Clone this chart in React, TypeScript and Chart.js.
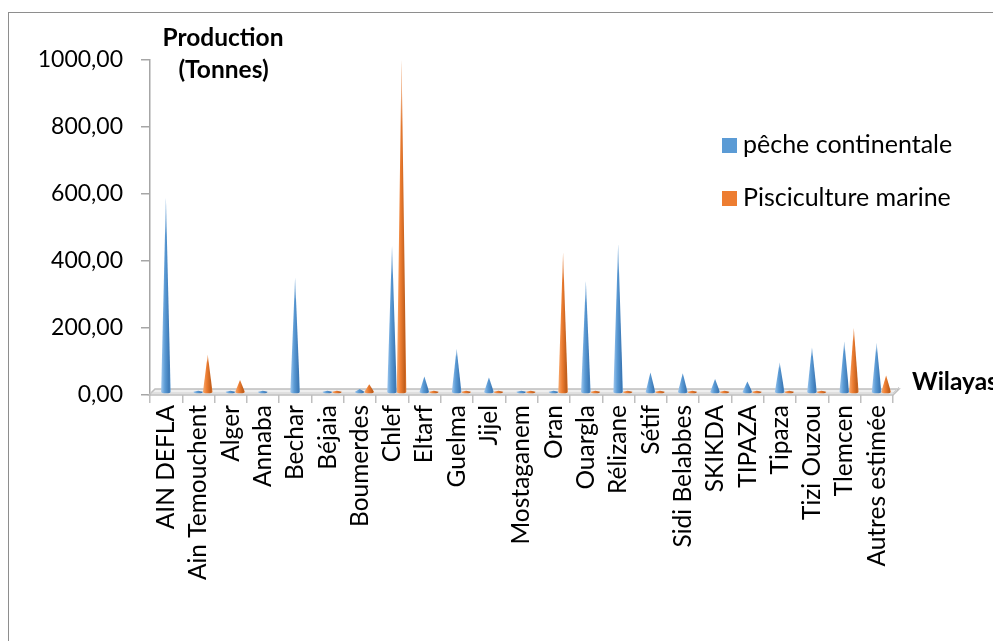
import React, { useEffect, useRef } from "react";
import { Chart, registerables } from "chart.js";

Chart.register(...registerables);

// ---------- data ----------
const categories = [
  "AIN DEFLA", "Ain Temouchent", "Alger", "Annaba", "Bechar", "Béjaia",
  "Boumerdes", "Chlef", "Eltarf", "Guelma", "Jijel", "Mostaganem", "Oran",
  "Ouargla", "Rélizane", "Sétif", "Sidi Belabbes", "SKIKDA", "TIPAZA",
  "Tipaza", "Tizi Ouzou", "Tlemcen", "Autres estimée",
];
const pecheContinentale = [
  590, 4, 4, 3, 350, 3, 18, 445, 55, 138, 52, 10, 3,
  340, 450, 67, 65, 48, 40, 97, 142, 160, 155,
];
const piscicultureMarine = [
  0, 120, 45, 0, 0, 3, 32, 1000, 4, 4, 4, 4, 425,
  4, 4, 4, 4, 4, 4, 4, 8, 200, 58,
];
const yTickValues = [0, 200, 400, 600, 800, 1000];
const seriesNames = ["pêche continentale", "Pisciculture marine"];
const seriesColors = ["#5B9BD5", "#ED7D31"];
const yTitleLines = ["Production", "(Tonnes)"];
const xTitle = "Wilayas";

// ---------- styles ----------
const FONT = "Lato";
const TEXT = "#000000";
const AXIS = "#A6A6A6";
const shades: Record<string, [string, string, string]> = {
  "#5B9BD5": ["#9DC6EE", "#5B9BD5", "#3C78B5"],
  "#ED7D31": ["#F7AA70", "#ED7D31", "#BF5D1B"],
};

const conePlugin = {
  id: "cones",
  beforeDatasetsDraw(chart: any) {
    const { ctx, chartArea } = chart;
    const { left, right, bottom } = chartArea;
    const d = 6;
    ctx.save();
    ctx.beginPath();
    ctx.moveTo(left - 1, bottom);
    ctx.lineTo(right, bottom);
    ctx.lineTo(right + d, bottom - d);
    ctx.lineTo(left + d - 1, bottom - d);
    ctx.closePath();
    ctx.fillStyle = "#EFEFEF";
    ctx.fill();
    ctx.lineWidth = 1.5;
    ctx.strokeStyle = "#BFBFBF";
    ctx.stroke();
    ctx.beginPath();
    ctx.moveTo(left, bottom - 2);
    ctx.lineTo(right, bottom - 2);
    ctx.lineTo(right + d, bottom - d - 2);
    ctx.lineWidth = 1;
    ctx.strokeStyle = "#D0D0D0";
    ctx.stroke();
    ctx.restore();
  },
  beforeDatasetDraw() {
    return false;
  },
  afterDatasetsDraw(chart: any) {
    const { ctx } = chart;
    chart.data.datasets.forEach((ds: any, di: number) => {
      const meta = chart.getDatasetMeta(di);
      const [light, mid, dark] = shades[ds.backgroundColor];
      meta.data.forEach((el: any, i: number) => {
        const v = ds.data[i];
        if (!v) return;
        const p = el.getProps(["x", "y", "base", "width"], true);
        const cx = p.x + 4.5;
        const by = p.base - 2.5;
        const hw = p.width / 2;
        const ty = Math.min(p.y, by - 1);
        ctx.save();
        const g = ctx.createLinearGradient(cx - hw, 0, cx + hw, 0);
        g.addColorStop(0, light);
        g.addColorStop(0.4, mid);
        g.addColorStop(0.85, dark);
        g.addColorStop(1, mid);
        ctx.fillStyle = g;
        ctx.beginPath();
        ctx.moveTo(cx - hw, by);
        ctx.lineTo(cx, ty);
        ctx.lineTo(cx + hw, by);
        ctx.ellipse(cx, by, hw, 1.5, 0, 0, Math.PI, false);
        ctx.closePath();
        ctx.fill();
        const h = by - ty;
        if (h > 20) {
          const wg = ctx.createLinearGradient(0, ty, 0, ty + h * 0.2);
          wg.addColorStop(0, "rgba(255,255,255,0.8)");
          wg.addColorStop(1, "rgba(255,255,255,0)");
          ctx.fillStyle = wg;
          ctx.beginPath();
          ctx.moveTo(cx - hw, by);
          ctx.lineTo(cx, ty);
          ctx.lineTo(cx + hw, by);
          ctx.closePath();
          ctx.fill();
        }
        ctx.restore();
      });
    });
  },
  afterDraw(chart: any) {
    const { ctx } = chart;
    ctx.save();
    ctx.fillStyle = TEXT;
    ctx.textBaseline = "alphabetic";
    ctx.font = `bold 24.5px ${FONT}`;
    ctx.textAlign = "center";
    ctx.fillText(yTitleLines[0], 223, 45.5);
    ctx.fillText(yTitleLines[1], 223.5, 78);
    ctx.textAlign = "left";
    ctx.fillText(xTitle, 912, 390);
    // legend
    ctx.font = `25px ${FONT}`;
    const legendY = [138, 191];
    seriesNames.forEach((name, i) => {
      ctx.fillStyle = seriesColors[i];
      ctx.fillRect(722, legendY[i], 15, 15);
      ctx.fillStyle = TEXT;
      ctx.fillText(name, 743, legendY[i] + 14.5);
    });
    ctx.restore();
  },
};

export default function App() {
  const ref = useRef<HTMLCanvasElement | null>(null);

  useEffect(() => {
    if (!ref.current) return;
    const chart = new Chart(ref.current, {
      type: "bar",
      data: {
        labels: categories,
        datasets: [
          { label: seriesNames[0], data: pecheContinentale, backgroundColor: seriesColors[0] },
          { label: seriesNames[1], data: piscicultureMarine, backgroundColor: seriesColors[1] },
        ],
      },
      options: {
        responsive: false,
        animation: false,
        devicePixelRatio: 1,
        datasets: { bar: { categoryPercentage: 0.59, barPercentage: 1 } },
        layout: { padding: { left: 0, top: 60, right: 100, bottom: 0 } },
        plugins: { legend: { display: false }, tooltip: { enabled: false } },
        scales: {
          x: {
            afterFit: (s: any) => { s.height = 641 - 395; },
            border: { display: false },
            grid: { drawOnChartArea: false, drawTicks: true, tickLength: 8, color: "#BFBFBF", lineWidth: 1.5, offset: true },
            ticks: {
              minRotation: 90, maxRotation: 90, autoSkip: false, padding: 2,
              color: TEXT, font: { family: FONT, size: 24.5 },
            },
          },
          y: {
            min: 0, max: 1000,
            afterFit: (s: any) => { s.width = 150; },
            afterBuildTicks: (s: any) => { s.ticks = yTickValues.map((v) => ({ value: v })); },
            border: { display: true, color: AXIS, width: 1.5 },
            grid: { drawOnChartArea: false, drawTicks: true, tickLength: 9, color: AXIS, lineWidth: 1.5 },
            ticks: {
              padding: 18, color: TEXT, font: { family: FONT, size: 23 },
              callback: (v: any) => Number(v).toFixed(2).replace(".", ","),
            },
          },
        },
      },
      plugins: [conePlugin],
    });
    return () => chart.destroy();
  }, []);

  return (
    <div style={{ position: "fixed", left: 0, top: 0, width: 993, height: 641, overflow: "hidden", background: "#fff" }}>
      <div style={{ position: "absolute", left: 8, top: 12, width: 1000, height: 700, border: "1px solid #8E8E8E" }} />
      <canvas ref={ref} width={993} height={641} style={{ position: "absolute", left: 0, top: 0 }} />
    </div>
  );
}
